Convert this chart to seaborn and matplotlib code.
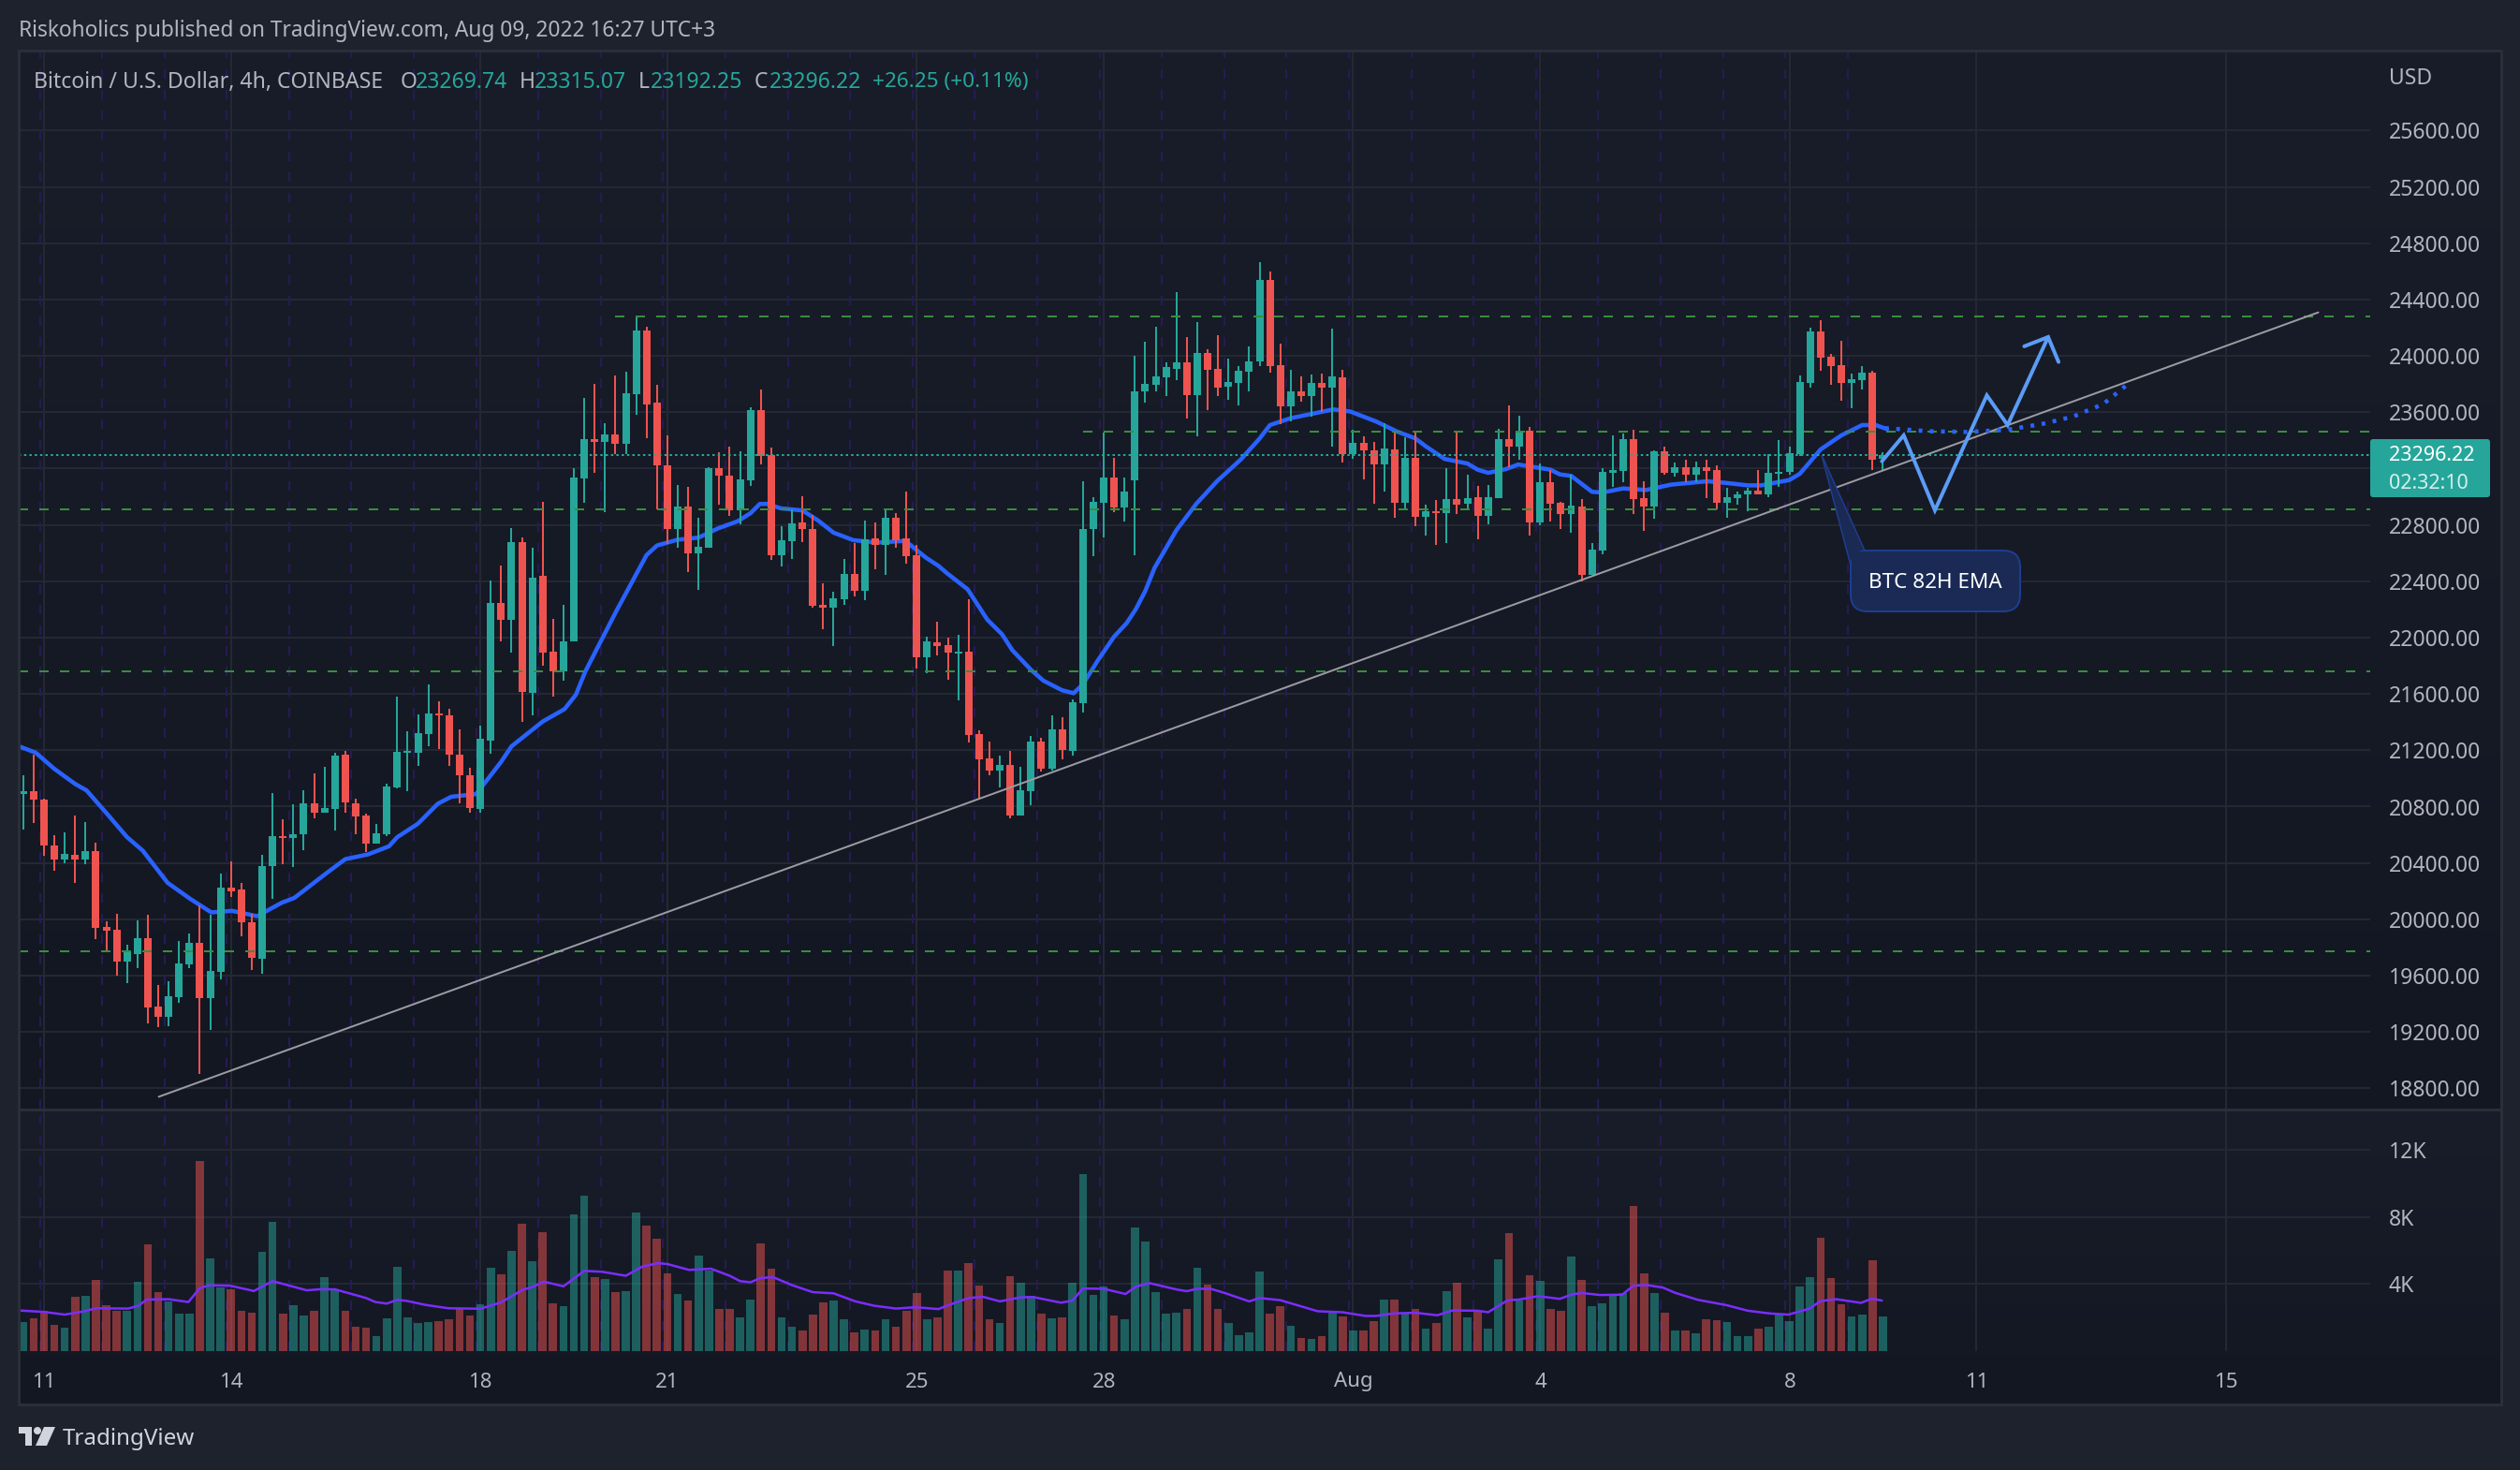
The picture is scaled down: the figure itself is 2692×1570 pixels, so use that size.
import matplotlib

matplotlib.use("Agg")
import matplotlib.pyplot as plt
import numpy as np
import pandas as pd
import seaborn as sns
from matplotlib.colors import LinearSegmentedColormap
from matplotlib.patches import Circle, FancyBboxPatch, Polygon, Rectangle

W, H = 2692, 1570

# candle index 0 is the 11 Jul tick, the first bar sits at -2
first_idx = -2

opens = [
    20889, 20908, 20850, 20522, 20423, 20457, 20423, 20484, 19946, 19927,
    19701, 19755, 19866, 19381, 19305, 19450, 19679, 19832, 19438, 19629,
    20225, 20213, 19980, 19717, 20381, 20591, 20576, 20603, 20824, 20755,
    20786, 21167, 20824, 20736, 20538, 20603, 20935, 21183, 21183, 21316,
    21461, 21450, 21167, 21022, 20786, 21270, 22248, 22125, 22679, 21606,
    22438, 21900, 21759, 21973, 23129, 23412, 23389, 23442, 23377, 23729,
    24183, 23667, 23221, 22768, 22929, 22598, 22636, 23201, 23148, 22903,
    23114, 23613, 23295, 22583, 22684, 22817, 22768, 22231, 22211, 22270,
    22450, 22331, 22702, 22656, 22850, 22702, 22583, 21857, 21964, 21944,
    21890, 21898, 21313, 21139, 21058, 21094, 20735, 20908, 21259, 21066,
    21346, 21193, 21532, 22768, 22957, 23135, 22924, 23114, 23748, 23794,
    23847, 23906, 23954, 23720, 24020, 23906, 23781, 23807, 23888, 23961,
    24539, 23934, 23644, 23748, 23715, 23808, 23777, 23848, 23300, 23380,
    23329, 23230, 23336, 22959, 23276, 22860, 22897, 22886, 22984, 22950,
    22997, 22864, 22992, 23409, 23356, 23469, 22817, 23103, 22957, 22877,
    22930, 22447, 22618, 23170, 23183, 23409, 22990, 22930, 23323, 23170,
    23210, 23157, 23210, 23190, 22957, 22990, 23017, 23043, 23017, 23163,
    23176, 23303, 23810, 24174, 23994, 23934, 23808, 23828, 23881, 23270,
]
highs = [
    21022, 21167, 20858, 20595, 20618, 20736, 20690, 20545, 19984, 20038,
    19820, 19992, 20034, 19534, 19560, 19847, 19900, 20098, 20030, 20327,
    20412, 20259, 20038, 20457, 20896, 20709, 20816, 20915, 21038, 21083,
    21183, 21194, 20858, 20751, 20679, 20961, 21580, 21335, 21454, 21667,
    21549, 21495, 21347, 21076, 21373, 22404, 22511, 22778, 22713, 22637,
    22965, 22133, 22232, 23202, 23702, 23801, 23522, 23862, 23889, 24286,
    24210, 23794, 23433, 23086, 23069, 22850, 23209, 23315, 23354, 23321,
    23634, 23761, 23349, 22789, 22911, 23002, 22873, 22384, 22328, 22557,
    22674, 22834, 22819, 22913, 22883, 23036, 22661, 22005, 22112, 21997,
    22018, 22270, 21343, 21259, 21160, 21193, 21081, 21300, 21287, 21445,
    21432, 21559, 23109, 22995, 23455, 23275, 23135, 24000, 24099, 24206,
    23954, 24453, 24132, 24239, 24046, 24145, 23980, 23926, 24066, 24666,
    24599, 24087, 23901, 23855, 23868, 23874, 24194, 23901, 23473, 23429,
    23387, 23524, 23469, 23425, 23456, 22941, 22977, 23203, 23458, 23156,
    23075, 23081, 23480, 23651, 23575, 23495, 23236, 23192, 22964, 23159,
    22981, 22671, 23203, 23436, 23447, 23473, 23110, 23332, 23356, 23243,
    23263, 23247, 23263, 23223, 23063, 23037, 23063, 23190, 23303, 23402,
    23356, 23861, 24200, 24253, 24014, 24107, 23874, 23928, 23894, 23315,
]
lows = [
    20640, 20686, 20450, 20347, 20400, 20255, 20389, 19862, 19770, 19602,
    19545, 19650, 19263, 19232, 19244, 19404, 19656, 18900, 19217, 19572,
    20156, 19881, 19637, 19610, 20144, 20393, 20373, 20488, 20717, 20755,
    20633, 20755, 20603, 20480, 20538, 20591, 20931, 20908, 21087, 21232,
    21209, 21087, 20824, 20755, 20755, 21175, 21973, 21896, 21400, 21446,
    21801, 21583, 21694, 21973, 22958, 23167, 22893, 23301, 23305, 23580,
    23416, 22908, 22667, 22636, 22465, 22341, 22636, 22941, 22862, 22806,
    23076, 23229, 22552, 22504, 22560, 22677, 22211, 22058, 21941, 22234,
    22290, 22267, 22483, 22445, 22638, 22524, 21778, 21748, 21872, 21699,
    21552, 21254, 20854, 21020, 20933, 20714, 20735, 20809, 21050, 21058,
    21134, 21160, 21465, 22577, 22710, 22890, 22822, 22583, 23667, 23748,
    23715, 23827, 23555, 23430, 23613, 23715, 23687, 23646, 23748, 23930,
    23879, 23518, 23535, 23675, 23571, 23604, 23358, 23245, 23269, 23125,
    22950, 23035, 22853, 22915, 22793, 22727, 22660, 22671, 22879, 22915,
    22700, 22804, 22992, 23207, 23263, 22727, 22800, 22824, 22771, 22744,
    22398, 22445, 22594, 23070, 23103, 22877, 22760, 22844, 23154, 23143,
    23103, 23103, 22990, 22910, 22853, 22944, 22897, 23017, 22999, 23070,
    23159, 23287, 23777, 23894, 23795, 23682, 23628, 23761, 23192, 23192,
]
closes = [
    20908, 20847, 20526, 20423, 20465, 20423, 20484, 19942, 19919, 19701,
    19770, 19866, 19377, 19305, 19453, 19686, 19832, 19438, 19633, 20225,
    20198, 19976, 19725, 20377, 20591, 20576, 20603, 20824, 20755, 20790,
    21163, 20828, 20732, 20538, 20610, 20942, 21190, 21194, 21324, 21461,
    21446, 21167, 21022, 20793, 21282, 22248, 22125, 22679, 21614, 22427,
    21896, 21759, 21973, 23137, 23412, 23389, 23442, 23377, 23736, 24183,
    23656, 23221, 22768, 22929, 22598, 22644, 23201, 23148, 22903, 23122,
    23613, 23287, 22583, 22689, 22809, 22768, 22224, 22211, 22277, 22450,
    22331, 22697, 22656, 22850, 22694, 22577, 21857, 21972, 21939, 21893,
    21900, 21307, 21134, 21058, 21094, 20735, 20913, 21259, 21068, 21346,
    21201, 21539, 22768, 22962, 23135, 22924, 23036, 23748, 23802, 23852,
    23921, 23954, 23720, 24020, 23901, 23774, 23814, 23893, 23959, 24539,
    23930, 23644, 23748, 23715, 23808, 23777, 23854, 23300, 23380, 23332,
    23230, 23343, 22959, 23276, 22860, 22897, 22882, 22984, 22944, 22990,
    22864, 22997, 23409, 23356, 23469, 22817, 23103, 22950, 22877, 22937,
    22447, 22625, 23176, 23190, 23409, 22984, 22930, 23323, 23170, 23210,
    23157, 23210, 23183, 22957, 22997, 23017, 23043, 23017, 23170, 23176,
    23309, 23815, 24174, 23987, 23928, 23808, 23835, 23881, 23263, 23296,
]
volumes = [
    1.71, 1.94, 2.38, 1.55, 1.38, 3.26, 3.32, 4.26, 2.76, 2.38,
    2.43, 4.15, 6.36, 3.54, 2.99, 2.21, 2.21, 11.34, 5.53, 3.82,
    3.71, 2.43, 2.32, 5.92, 7.74, 2.21, 2.76, 2.10, 2.43, 4.42,
    3.65, 2.43, 1.44, 1.38, 0.88, 1.94, 5.03, 1.99, 1.66, 1.71,
    1.77, 1.88, 2.49, 2.10, 2.82, 4.98, 4.59, 5.97, 7.63, 5.36,
    7.13, 2.88, 2.71, 8.18, 9.29, 4.42, 4.31, 3.54, 3.59, 8.29,
    7.52, 6.69, 4.65, 3.43, 3.04, 5.70, 4.81, 2.49, 2.49, 1.99,
    3.10, 6.41, 4.92, 1.99, 1.44, 1.22, 2.16, 2.93, 3.04, 1.88,
    1.11, 1.27, 1.22, 1.88, 1.44, 2.38, 3.48, 1.88, 1.99, 4.81,
    4.81, 5.25, 3.93, 1.88, 1.66, 4.48, 4.09, 3.32, 2.21, 1.94,
    1.99, 4.09, 10.56, 3.37, 3.87, 2.10, 1.88, 7.41, 6.53, 3.54,
    2.21, 2.32, 2.49, 4.98, 3.98, 2.49, 1.66, 0.94, 1.11, 4.76,
    2.21, 2.71, 1.49, 0.77, 0.72, 0.88, 2.32, 2.05, 1.22, 1.22,
    1.77, 3.10, 3.10, 2.21, 2.49, 1.33, 1.66, 3.59, 4.09, 1.99,
    2.43, 1.33, 5.47, 7.02, 3.04, 4.53, 4.20, 2.49, 2.43, 5.64,
    4.26, 2.71, 2.88, 3.37, 3.48, 8.68, 4.65, 3.48, 2.32, 1.22,
    1.22, 1.05, 1.88, 1.82, 1.71, 0.88, 0.88, 1.33, 1.44, 2.21,
    1.77, 3.87, 4.42, 6.75, 4.37, 2.82, 2.05, 2.16, 5.42, 2.05,
]

ema_idx = [
    -2.4, -0.8, 1, 3, 4.1, 6, 8, 9.5, 11.9, 14.1, 16.1, 18.1, 20.5, 22.9, 24.1, 27.2,
    29, 31.2, 33.2, 34, 36, 37.9, 39.2, 41.6, 44, 45, 48, 50.1, 51.2, 52.1, 55.1, 58,
    59, 61, 63, 64.9, 66.8, 68, 68.9, 69.6, 70.9, 73, 74.5, 76, 77.9, 80.1, 82.9, 84.9,
    86.1, 86.9, 88.9, 90.8, 92.2, 93.2, 95, 96.2, 98, 99.1, 100, 101.4, 103, 104.2,
    105.1, 106, 106.9, 107.9, 109, 110.9, 112.9, 115.2, 117, 118, 120, 124.1, 125.7,
    128.2, 130.2, 132, 133, 134.8, 137, 138, 139, 140.7, 141.9, 145, 145.9, 147, 149,
    150, 152, 154.2, 156.6, 160.1, 161.8, 164, 165.3, 168, 169, 171, 173, 175, 176.3, 177.4,
]
ema_val = [
    21228, 21183, 21068, 20961, 20915, 20755, 20583, 20488, 20259, 20144, 20049, 20060,
    20022, 20118, 20152, 20328, 20427, 20461, 20518, 20583, 20679, 20820, 20870, 20889,
    21118, 21228, 21404, 21492, 21595, 21759, 22190, 22586, 22654, 22695, 22710, 22776,
    22827, 22883, 22949, 22949, 22918, 22903, 22832, 22745, 22692, 22674, 22687, 22567,
    22509, 22458, 22343, 22127, 22025, 21911, 21771, 21694, 21626, 21605, 21669, 21834,
    22007, 22102, 22203, 22331, 22496, 22623, 22763, 22949, 23110, 23265, 23413, 23509,
    23558, 23620, 23606, 23535, 23464, 23414, 23358, 23269, 23236, 23192, 23170, 23196,
    23229, 23192, 23159, 23148, 23035, 23030, 23059, 23048, 23086, 23110, 23099, 23081,
    23081, 23119, 23163, 23336, 23436, 23509, 23509, 23480,
]
ema_proj_idx = [177.2, 181.5, 185.1, 189, 192.4, 195.3, 198.2, 200.9]
ema_proj_val = [23487, 23465, 23460, 23476, 23518, 23569, 23658, 23819]

vol_ma_idx = [
    -2.5, 0, 2, 3.9, 5, 8.1, 9.1, 9.9, 12, 13.9, 15, 15.9, 17.9, 20.2, 22, 23.2, 25.3,
    26.5, 28, 31, 31.9, 33, 34, 34.9, 36.8, 38.9, 42, 44, 46.1, 47, 48.1, 50, 52, 53.7,
    56, 57.6, 59.1, 60, 62.1, 64.2, 66, 67, 68, 69, 70.2, 72, 74, 76, 78.1, 79.9, 82,
    83.9, 86.1, 86.9, 89, 90.4, 92, 94, 95.2, 97.9, 99, 100, 102, 104.1, 105.1, 106.4,
    109.1, 110, 111, 112.3, 113.6, 116, 117, 119, 122.6, 125, 127.2, 128.2, 129.9, 132,
    134.1, 135.6, 138, 139, 140.9, 142, 143.8, 145.9, 147.1, 148, 149.8, 151.9, 153,
    154.3, 155.8, 157, 159.2, 161.9, 164, 166.1, 167.9, 169.9, 171, 172.5, 174.9, 175.9, 176.9,
]
vol_ma_val = [
    2.43, 2.34, 2.18, 2.38, 2.56, 2.54, 2.71, 3.08, 3.10, 2.93, 3.76, 3.93, 3.91, 3.59,
    4.18, 3.98, 3.63, 3.69, 3.69, 3.17, 2.93, 2.84, 3.06, 3.00, 2.75, 2.56, 2.53, 2.91,
    3.67, 3.82, 4.15, 3.87, 4.79, 4.74, 4.50, 5.05, 5.25, 5.20, 4.85, 4.92, 4.50, 4.18,
    4.11, 4.37, 4.41, 3.94, 3.52, 3.45, 2.97, 2.71, 2.54, 2.62, 2.51, 2.71, 3.17, 3.24,
    2.97, 3.21, 3.23, 2.89, 3.02, 3.74, 3.72, 3.41, 3.85, 4.06, 3.67, 3.58, 3.72, 3.72,
    3.48, 2.97, 3.17, 3.04, 2.38, 2.32, 2.10, 2.10, 2.25, 2.29, 2.14, 2.43, 2.41, 2.32,
    3.04, 3.08, 3.28, 3.12, 3.39, 3.47, 3.35, 3.37, 3.91, 3.94, 3.80, 3.48, 3.06, 2.75,
    2.41, 2.25, 2.18, 2.53, 2.99, 3.10, 2.88, 3.13, 3.02,
]

trend_idx = [11.05, 218.9]
trend_val = [18740, 24309]
path_idx = [176.9, 179.0, 182.0, 187.0, 189.0, 192.9]
path_val = [23252, 23436, 22904, 23720, 23509, 24134]
arrow_idx = [190.6, 192.9, 193.9]
arrow_val = [24068, 24134, 23957]

# (price, first index the level starts from)
levels = [24280, 23463, 22911, 21759, 19770]
level_starts = [55, 100, -2.43, -2.43, -2.43]

last_price = 23296.22
price_ticks = list(range(18800, 25601, 400))
hidden_price_label = 23200  # sits behind the last price tag
vol_ticks = [4, 8, 12]
vol_tick_labels = ["4K", "8K", "12K"]
time_tick_idx = [0, 18, 42, 60, 84, 102, 126, 144, 168, 186, 210]
time_tick_labels = ["11", "14", "18", "21", "25", "28", "Aug", "4", "8", "11", "15"]
session_idx = np.arange(-0.4, 174, 6)

UP = "#26a69a"
DOWN = "#ef5350"
GRID = "#242834"
FRAME = "#2a2e39"
TEXT = "#b2b5be"
PX = 0.72  # one pixel in points at dpi 100
DY = 3  # matplotlib centres on the line box, ink sits a bit higher
AXIS_FS = 16.5


def make_ax(fig, left, top, right, bottom):
    ax = fig.add_axes([left / W, 1 - bottom / H, (right - left) / W, (bottom - top) / H], zorder=1)
    ax.patch.set_alpha(0)
    ax.set_xlim(-2.43, 223.9)
    for spine in ax.spines.values():
        spine.set_visible(False)
    return ax


def clean_ax(ax):
    ax.set_xlim(-2.43, 223.9)
    ax.set_xticks([])
    ax.set_yticks([])
    ax.set_xlabel("")
    ax.set_ylabel("")


def draw_gradients(fig):
    bg = fig.add_axes([0, 0, 1, 1], zorder=-1)
    bg.set_xlim(0, W)
    bg.set_ylim(H, 0)
    bg.axis("off")
    cmap = LinearSegmentedColormap.from_list("pane", ["#191d29", "#131722"])
    ramp = np.linspace(0, 1, 256).reshape(-1, 1)
    for top, bottom in [(54, 1184), (1184, 1500)]:
        bg.imshow(ramp, cmap=cmap, extent=(20, 2672, bottom, top), aspect="auto", zorder=0)
    bg.set_xlim(0, W)
    bg.set_ylim(H, 0)


def draw_background(ax, hticks):
    for y in hticks:
        ax.axhline(y, color=GRID, lw=2 * PX, zorder=1)
    for x in time_tick_idx:
        ax.axvline(x, color=GRID, lw=2 * PX, zorder=1)
    for x in session_idx:
        ax.axvline(x, color="#271a56", lw=2 * PX, ls=(0, (10 * PX, 12 * PX)), zorder=1.5)


def draw_candles(ax, df):
    for colour, part in df.groupby("colour"):
        ax.vlines(part["idx"], part["low"], part["high"], color=colour, lw=2 * PX, zorder=5)
        ax.bar(
            part["idx"],
            (part["close"] - part["open"]).abs().clip(lower=8),
            bottom=part[["open", "close"]].min(axis=1),
            width=0.72,
            color=colour,
            linewidth=0,
            zorder=6,
        )


def draw_overlay(fig):
    ov = fig.add_axes([0, 0, 1, 1], zorder=10)
    ov.set_xlim(0, W)
    ov.set_ylim(H, 0)
    ov.axis("off")
    ov.patch.set_alpha(0)

    ov.add_patch(Rectangle((20, 54), 2652, 1446, fill=False, ec=FRAME, lw=3 * PX, zorder=1))
    ov.plot([20, 2672], [1184.5, 1184.5], color=FRAME, lw=3 * PX, zorder=1)

    # callout
    ov.add_patch(Polygon([(1946, 486), (1977, 604), (1992, 588)], fc="#1a2a54", ec="#1f3d8f", lw=1.5 * PX, zorder=3))
    ov.add_patch(
        FancyBboxPatch(
            (1977, 588), 181, 65, boxstyle="round,pad=0,rounding_size=18",
            fc="#1a2a54", ec="#1f3d8f", lw=2 * PX, zorder=3,
        )
    )
    ov.add_patch(Rectangle((1978, 589), 14, 16, fc="#1a2a54", lw=0, zorder=4))
    ov.text(2067, 620 + DY, "BTC 82H EMA", color="white", fontsize=16.2, ha="center", va="center", zorder=5)

    # price labels
    y_of = lambda p: 320 + (24400 - p) * 0.15042
    for p in price_ticks:
        if p == hidden_price_label:
            continue
        ov.text(2552, y_of(p) + DY, f"{p}.00", color=TEXT, fontsize=AXIS_FS, ha="left", va="center")
    ov.text(2552, 81 + DY, "USD", color=TEXT, fontsize=AXIS_FS, ha="left", va="center")
    for v, label in zip(vol_ticks, vol_tick_labels):
        ov.text(2552, 1443 - v * 17.9 + DY, label, color=TEXT, fontsize=AXIS_FS, ha="left", va="center")

    # last price tag
    ov.add_patch(FancyBboxPatch((2532, 469), 128, 62, boxstyle="round,pad=0,rounding_size=3", fc=UP, lw=0, zorder=3))
    ov.text(2552, 486, f"{last_price:.2f}", color="white", fontsize=15.5, ha="left", va="center", zorder=4)
    ov.text(2552, 516, "02:32:10", color="#d5efec", fontsize=15.5, ha="left", va="center", zorder=4)

    # time labels
    for x, label in zip(time_tick_idx, time_tick_labels):
        ov.text(47 + 11.1 * x, 1473 + DY, label, color=TEXT, fontsize=16, ha="center", va="center")

    # header
    ov.text(20, 30 + DY, "Riskoholics published on TradingView.com, Aug 09, 2022 16:27 UTC+3",
            color=TEXT, fontsize=16.4, ha="left", va="center")
    ov.text(36, 85 + DY, "Bitcoin / U.S. Dollar, 4h, COINBASE", color=TEXT, fontsize=16.6, ha="left", va="center")
    for x, letter, value in [(428, "O", "23269.74"), (555, "H", "23315.07"), (682, "L", "23192.25"), (806, "C", "23296.22")]:
        ov.text(x, 85 + DY, letter, color=TEXT, fontsize=16.5, ha="left", va="center")
        ov.text(x + (16 if letter != "L" else 13), 85 + DY, value, color=UP, fontsize=16.5, ha="left", va="center")
    ov.text(932, 85 + DY, "+26.25 (+0.11%)", color=UP, fontsize=16.3, ha="left", va="center")

    # logo
    logo = "#d1d4dc"
    ov.add_patch(Rectangle((20, 1524), 14, 7, color=logo, lw=0))
    ov.add_patch(Rectangle((27, 1524), 7, 20, color=logo, lw=0))
    ov.add_patch(Circle((40, 1528), 4, color=logo, lw=0))
    ov.add_patch(Polygon([(47, 1524), (59, 1524), (50, 1544), (38, 1544)], color=logo, lw=0))
    ov.text(67, 1534 + DY, "TradingView", color=logo, fontsize=17.4, ha="left", va="center")


def main():
    sns.set_theme(style="dark", font="Noto Sans")
    plt.rcParams["lines.scale_dashes"] = False

    idx = np.arange(first_idx, first_idx + len(closes))
    df = pd.DataFrame({"idx": idx, "open": opens, "high": highs, "low": lows, "close": closes, "vol": volumes})
    df["colour"] = np.where(df["close"] >= df["open"], UP, DOWN)
    df["side"] = np.where(df["close"] >= df["open"], "up", "down")

    fig = plt.figure(figsize=(W / 100, H / 100), dpi=100, facecolor="#1e222d")
    draw_gradients(fig)
    ax = make_ax(fig, 20, 54, 2532, 1184)
    ax_vol = make_ax(fig, 20, 1185, 2532, 1443)

    # price pane
    draw_background(ax, price_ticks)
    sns.lineplot(x=ema_idx, y=ema_val, ax=ax, color="#2962ff", linewidth=4.5 * PX, zorder=4)
    draw_candles(ax, df)
    for level, start in zip(levels, level_starts):
        ax.plot([start, 223.9], [level, level], color="#388e3c", lw=2 * PX, ls=(0, (10 * PX, 12 * PX)), zorder=7)
    ax.axhline(last_price, color=UP, lw=2 * PX, ls=(0, (2.5 * PX, 3.2 * PX)), zorder=7)
    sns.lineplot(x=trend_idx, y=trend_val, ax=ax, color="#9b9ba1", linewidth=2 * PX, zorder=8)
    sns.lineplot(x=ema_proj_idx, y=ema_proj_val, ax=ax, color="#2962ff", linewidth=4.5 * PX,
                 linestyle=(0, (4 * PX, 8 * PX)), zorder=8)
    ax.plot(path_idx, path_val, color="#5b9cf6", lw=4 * PX, zorder=9, solid_joinstyle="miter")
    ax.plot(arrow_idx, arrow_val, color="#5b9cf6", lw=4 * PX, zorder=9, solid_joinstyle="miter")
    ax.set_ylim(18656, 26168)
    clean_ax(ax)

    # volume pane
    draw_background(ax_vol, vol_ticks)
    sns.barplot(
        data=df, x="idx", y="vol", hue="side", palette={"up": UP, "down": DOWN}, ax=ax_vol,
        native_scale=True, dodge=False, width=0.78, alpha=0.5, saturation=1, errorbar=None,
        legend=False, linewidth=0, zorder=3,
    )
    sns.lineplot(x=vol_ma_idx, y=vol_ma_val, ax=ax_vol, color="#7b2dff", linewidth=2.5 * PX, zorder=4)
    ax_vol.set_ylim(0, 14.43)
    clean_ax(ax_vol)

    draw_overlay(fig)
    fig.savefig("out.png", dpi=100, facecolor=fig.get_facecolor())


if __name__ == "__main__":
    main()
